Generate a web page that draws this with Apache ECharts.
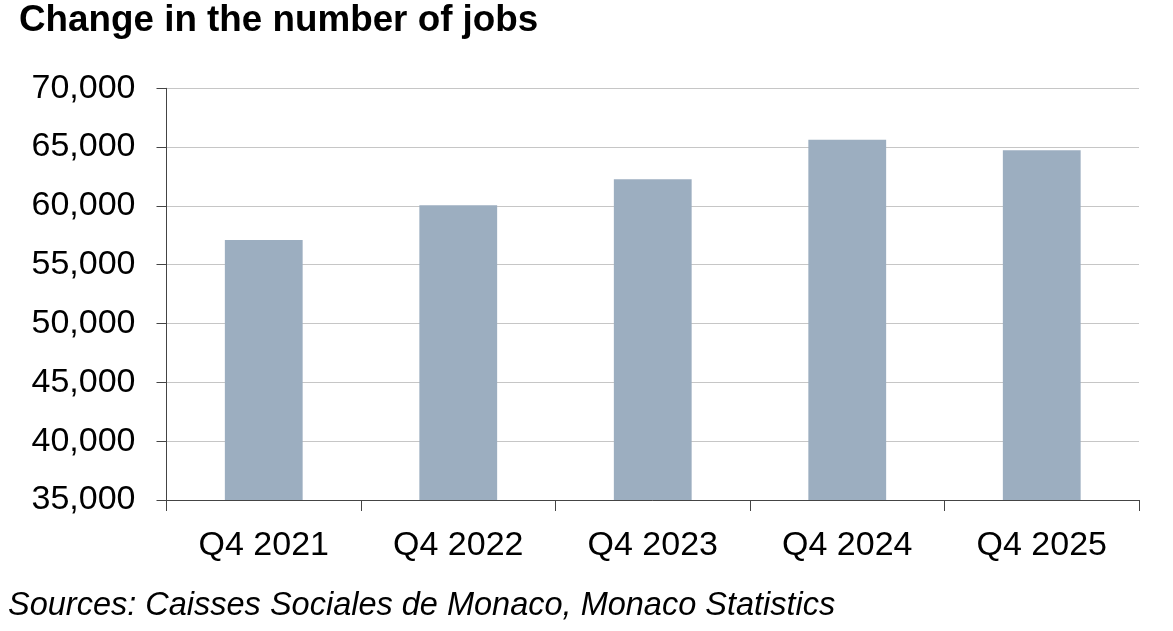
<!DOCTYPE html>
<html>
<head>
<meta charset="utf-8">
<script src="https://cdn.jsdelivr.net/npm/echarts@6/dist/echarts.min.js"></script>
<style>
  html, body { margin: 0; padding: 0; background: #fff; }
  #chart { width: 1173px; height: 631px; }
</style>
</head>
<body>
<div id="chart"></div>
<script>
const categories = ['Q4 2021', 'Q4 2022', 'Q4 2023', 'Q4 2024', 'Q4 2025'];
const jobs = [57100, 60050, 62270, 65620, 64740];
const titleText = 'Change in the number of jobs';
const sourceText = 'Sources: Caisses Sociales de Monaco, Monaco Statistics';

const FONT = 'Liberation Sans, Arial, Helvetica, sans-serif';
const chart = echarts.init(document.getElementById('chart'), null, { renderer: 'canvas' });
chart.setOption({
  animation: false,
  backgroundColor: '#ffffff',
  title: [
    {
      text: titleText,
      left: 19,
      top: 2,
      padding: 0,
      textStyle: { fontFamily: FONT, fontSize: 36.8, fontWeight: 'bold', color: '#000' }
    },
    {
      text: sourceText,
      left: 8,
      top: 589,
      padding: 0,
      textStyle: { fontFamily: FONT, fontSize: 32.5, fontStyle: 'italic', fontWeight: 'normal', color: '#000' }
    }
  ],
  grid: { left: 166.5, right: 34, top: 88.3, bottom: 131, containLabel: false },
  xAxis: {
    type: 'category',
    data: categories,
    axisLine: { show: true, lineStyle: { color: '#444', width: 1 } },
    axisTick: { show: true, length: 11, inside: false, alignWithLabel: false, lineStyle: { color: '#444' } },
    axisLabel: { fontFamily: FONT, fontSize: 34, color: '#000', margin: 29, lineHeight: 34 }
  },
  yAxis: {
    type: 'value',
    min: 35000,
    max: 70000,
    interval: 5000,
    axisLine: { show: true, lineStyle: { color: '#444', width: 1 } },
    axisTick: { show: true, length: 10, inside: false, lineStyle: { color: '#444' } },
    splitLine: { show: true, lineStyle: { color: '#8c8c8c', type: [1, 1], width: 1 } },
    axisLabel: {
      fontFamily: FONT, fontSize: 34, color: '#000', margin: 31,
      formatter: v => v.toLocaleString('en-US')
    }
  },
  series: [{
    type: 'bar',
    data: jobs,
    barWidth: '40%',
    itemStyle: { color: '#9caec0' }
  }]
});
</script>
</body>
</html>
